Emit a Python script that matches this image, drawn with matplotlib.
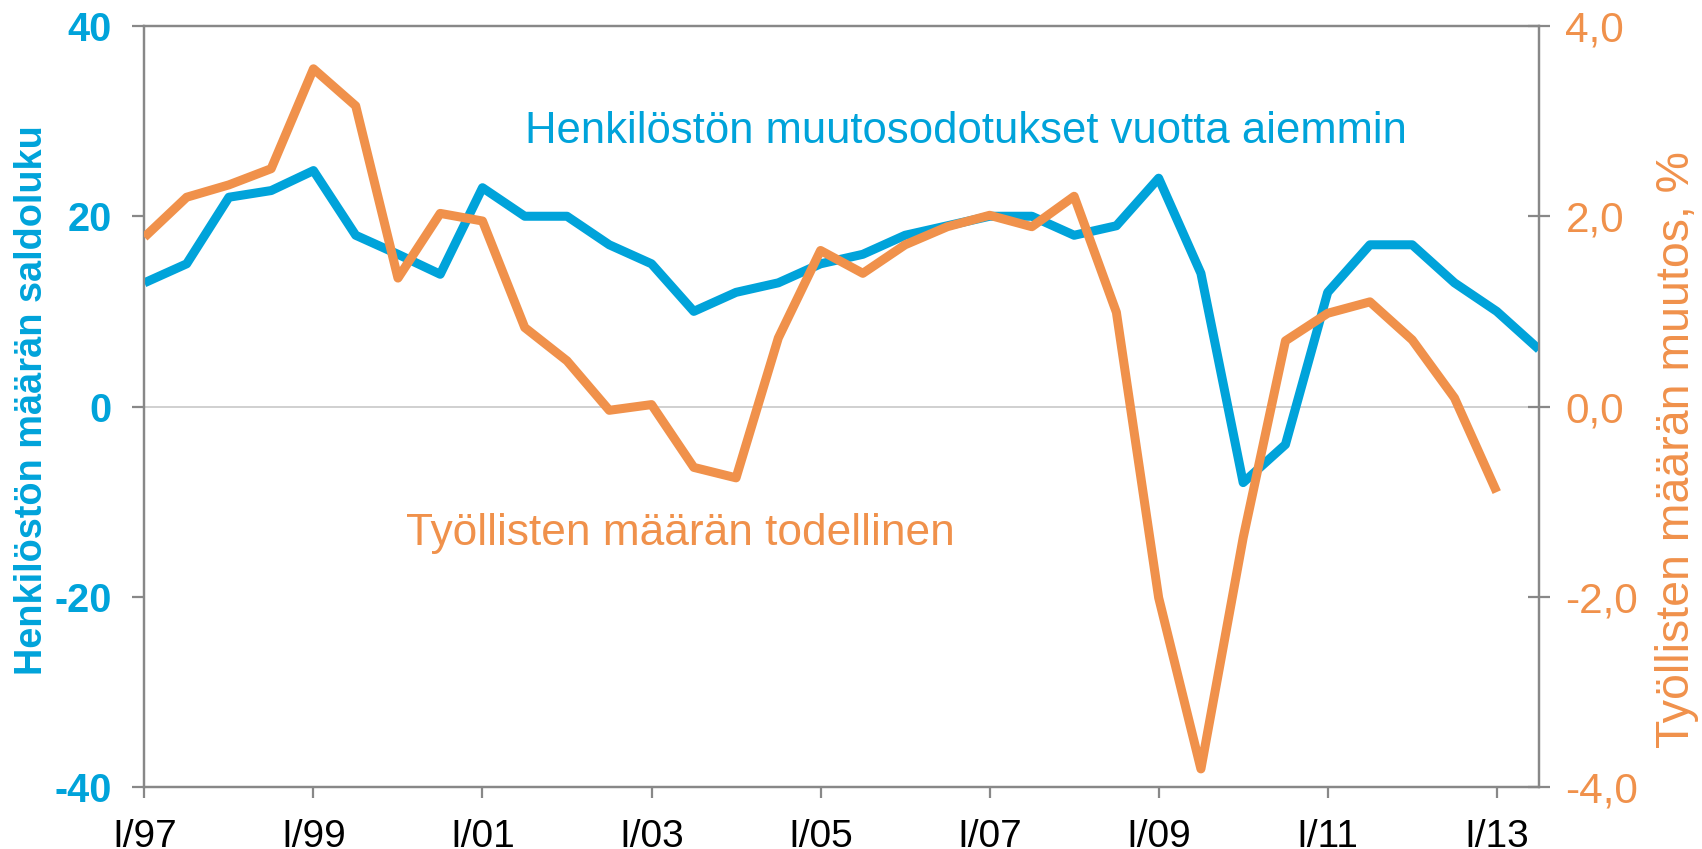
import matplotlib
matplotlib.use("Agg")
import matplotlib.pyplot as plt
import numpy as np
from matplotlib import font_manager

# ---------------- data ----------------
period_labels = ["I/97", "I/99", "I/01", "I/03", "I/05", "I/07", "I/09", "I/11", "I/13"]

# Henkilöstön muutosodotukset vuotta aiemmin (saldoluku), half-yearly from I/97 to II/13
expectations = [13, 15, 22, 22.7, 24.8, 18, 16, 13.9, 23, 20, 20, 17, 15, 10, 12, 13,
                15, 16, 18, 19, 20, 20, 18, 19, 24, 14, -8, -4, 12, 17, 17, 13, 10, 6]

# Työllisten määrän todellinen muutos, %, half-yearly from I/97 to I/13
employment = [1.78, 2.20, 2.33, 2.50, 3.55, 3.16, 1.35, 2.03, 1.95, 0.83, 0.48, -0.04,
              0.02, -0.64, -0.75, 0.72, 1.64, 1.40, 1.70, 1.89, 2.01, 1.89, 2.21, 0.99,
              -2.01, -3.81, -1.38, 0.69, 0.98, 1.10, 0.70, 0.09, -0.90]

left_ticks = [-40, -20, 0, 20, 40]
right_ticks = [-4.0, -2.0, 0.0, 2.0, 4.0]

label_blue = "Henkilöstön muutosodotukset vuotta aiemmin"
label_orange = "Työllisten määrän todellinen"
ylabel_left = "Henkilöstön määrän saldoluku"
ylabel_right = "Työllisten määrän muutos, %"

# ---------------- style ----------------
BLUE = "#00A3DA"
ORANGE = "#F0914B"
GRAY = "#888888"

avail = {f.name for f in font_manager.fontManager.ttflist}
FAM = [f for f in ["Liberation Sans", "Arial"] if f in avail] + ["DejaVu Sans"]
plt.rcParams["font.family"] = FAM

W, H = 1702, 849
fig = plt.figure(figsize=(W / 100, H / 100), dpi=100)
L, R, T, B = 144.4, 1539, 26, 787
ax = fig.add_axes([L / W, 1 - B / H, (R - L) / W, (B - T) / H])
ax2 = ax.twinx()

x_blue = np.arange(len(expectations))
x_orange = np.arange(len(employment))

ax.axhline(0, color="#C8C8C8", lw=1.2, zorder=1)
ax.plot(x_blue, expectations, color=BLUE, lw=6.5, solid_joinstyle="round",
        solid_capstyle="butt", zorder=3)
ax2.plot(x_orange, employment, color=ORANGE, lw=6.5, solid_joinstyle="round",
         solid_capstyle="butt", zorder=3)

ax.set_xlim(0, len(expectations) - 1)
ax.set_ylim(-40, 40)
ax2.set_ylim(-4, 4)

ax.set_xticks(np.arange(0, len(expectations), 4)[:len(period_labels)])
ax.set_xticklabels(period_labels)
ax.set_yticks(left_ticks)
ax.set_yticklabels([f"{v:d}" for v in left_ticks])
ax2.set_yticks(right_ticks)
ax2.set_yticklabels([f"{v:.1f}".replace(".", ",") for v in right_ticks])

for a in (ax, ax2):
    for s in a.spines.values():
        s.set_color(GRAY)
        s.set_linewidth(1.6)

ax.tick_params(axis="x", direction="out", length=8, width=1.6, color=GRAY,
               pad=15, labelsize=28, labelcolor="black")
ax.tick_params(axis="y", direction="out", length=8.5, width=1.6, color=GRAY,
               pad=15, labelsize=28.5, labelcolor=BLUE)
for t in ax.get_yticklabels():
    t.set_fontweight("bold")
ax2.tick_params(axis="y", direction="inout", length=16, width=1.6, color=GRAY,
                pad=11, labelsize=30.5, labelcolor=ORANGE)

t1 = ax.text(9.0, 27.7, label_blue, color=BLUE, fontsize=30, ha="left", va="baseline")
t2 = ax.text(6.18, -14.6, label_orange, color=ORANGE, fontsize=30, ha="left", va="baseline")

yl = fig.text(32 / W, 1 - 400 / H, ylabel_left, rotation=90, color=BLUE, fontsize=25,
              fontweight="bold", ha="center", va="center")
yr = fig.text(1677 / W, 1 - 450 / H, ylabel_right, rotation=90, color=ORANGE, fontsize=27,
              ha="center", va="center")

# fit text sizes to the measured extents of the reference
fig.canvas.draw()
r = fig.canvas.get_renderer()
for t, target, dim in [(t1, 878, "w"), (t2, 547, "w"), (yl, 550, "h"), (yr, 597, "h")]:
    bb = t.get_window_extent(r)
    cur = bb.width if dim == "w" else bb.height
    t.set_fontsize(t.get_fontsize() * target / cur)

fig.savefig("out.png", dpi=100)
